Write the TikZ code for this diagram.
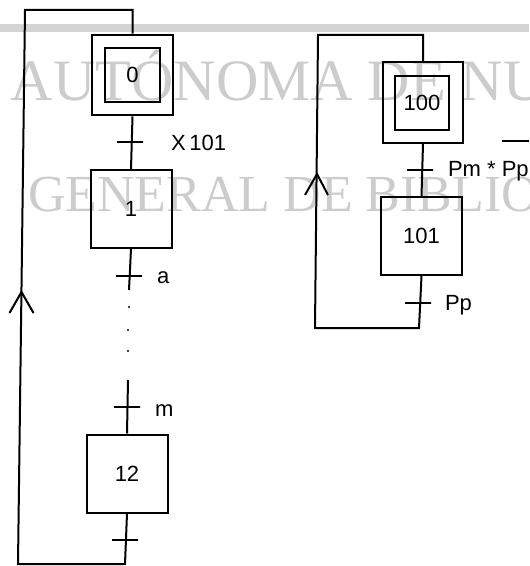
\documentclass[tikz,border=0pt]{standalone}
\usepackage{fontspec}
\setmainfont{Liberation Sans}
\newfontfamily\wmfont{Liberation Serif}

\tikzset{every picture/.style={line width=1.5pt}}
\tikzset{
  stepbox/.style={draw, minimum width=60.75pt, minimum height=58.5pt, inner sep=0.75pt, font=\fontsize{16.5}{19}\selectfont},
  initin/.style={draw, minimum width=41pt, minimum height=40.5pt, inner sep=0.75pt, font=\fontsize{16.5}{19}\selectfont},
  initout/.style={draw, minimum width=60.5pt, minimum height=60.5pt, inner sep=0pt},
  trans/.style={draw, minimum width=19.5pt, minimum height=0pt, inner sep=0pt},
  lbl/.style={anchor=base west, inner sep=0.75pt, font=\fontsize{16.5}{19}\selectfont},
  wmark/.style={anchor=base west, inner sep=0pt, text=black!20, font=\wmfont\fontsize{39}{42}\selectfont}
}

\begin{document}
\begin{tikzpicture}[x=0.75pt,y=0.75pt,yscale=-1,xscale=1]
	\useasboundingbox (0,0) rectangle (529,566);
	\clip (0,0) rectangle (529,566);
	
	% Watermark
	\fill [black!17] (0,24) rectangle (529,32);
	\node [wmark, font=\wmfont\fontsize{44}{46}\selectfont] (wm1) at (10,101) {AUTÓNOMA DE NU};
	\node [wmark] (wm2) at (27,212) {GENERAL DE BIBLIO};
	
	% Steps, left chart
	\node [initout] (s0o) at (132.5,75) {};
	\node [initin] (s0) at (132.5,75) {0};
	\node [stepbox] (s1) at (131,209) {1};
	\node [stepbox] (s12) at (127,473.5) {12};
	% Steps, right chart
	\node [initout] (s100o) at (423,102.5) {};
	\node [initin] (s100) at (422,103) {100};
	\node [stepbox] (s101) at (421.5,236) {101};
	
	% Loop corners
	\coordinate (c1) at (129,290);
	\coordinate (c2) at (128,380);
	\coordinate (l1) at (125,564);
	\coordinate (l2) at (18,564);
	\coordinate (l3) at (25,10);
	\coordinate (l4) at (132.5,10);
	\coordinate (ar1) at (21.5,292);
	\coordinate (r1) at (419,328);
	\coordinate (r2) at (315,328);
	\coordinate (r3) at (318,35);
	\coordinate (r4) at (423,35);
	\coordinate (ar2) at (317,174);
	
	%Straight Lines
	\draw (s0o.south) -- (s1.north);
	\draw (s1.south) -- (c1);
	\draw (c2) -- (s12.north);
	\draw (s12.south) -- (l1) -- (l2) -- (l3) -- (l4) -- (s0o.north);
	\draw (s100o.south) -- (s101.north);
	\draw (s101.south) -- (r1) -- (r2) -- (r3) -- (r4) -- (s100o.north);
	
	% Arrow heads
	\draw (ar1) +(-12,21) -- (ar1) -- +(12,21);
	\draw (ar2) +(-12,21) -- (ar2) -- +(11,21);
	
	% Dots
	\fill (129,307) circle (1.2);
	\fill (128,330) circle (1.2);
	\fill (128,351) circle (1.2);
	
	% Transitions
	\node [trans] (t0) at (130,142) {};
	\node [trans] (ta) at (129,276) {};
	\node [trans] (tm) at (127,407) {};
	\node [trans] (t12) at (125,540) {};
	\node [trans] (t100) at (420,170) {};
	\node [trans] (t101) at (418,303) {};
	
	% Text Node
	\node [lbl] (x101) at (169,151) {X\,101};
	% Text Node
	\node [lbl] (la) at (155,283) {a};
	% Text Node
	\node [lbl] (lm) at (153,416) {m};
	% Text Node
	\node [lbl] (pmpp) at (446,177) {Pm * \smash{\rlap{\rule[26.5pt]{22pt}{1.1pt}}}Pp};
	% Text Node
	\node [lbl] (pp) at (443,310) {Pp};
	
\end{tikzpicture}
\end{document}
